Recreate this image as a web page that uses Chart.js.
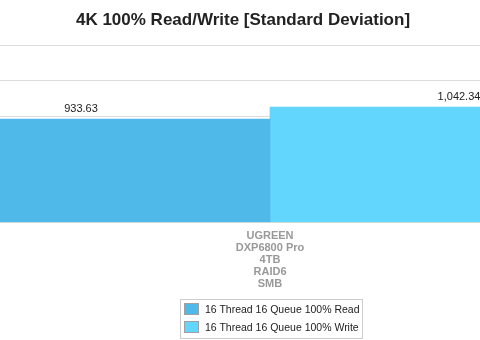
<!DOCTYPE html>
<html lang="en">
<head>
    <meta charset="UTF-8">
    <title>4K 100% Read/Write [Standard Deviation]</title>
    <script src="https://cdn.jsdelivr.net/npm/chart.js"></script>
    <style>
        body { margin: 0; overflow: hidden; background: #fff; font-family: "Liberation Sans", Arial, sans-serif; }
        #wrap { position: relative; width: 480px; height: 340px; overflow: hidden; }
        /* the original chart is wider than the picture, so the canvas sticks out on both sides */
        #chart-box { position: absolute; left: -162px; top: 0; width: 810px; height: 340px; }
        #legend { position: absolute; left: 180px; top: 299px; width: 181px; height: 38px; border: 1px solid #ccc; }
        .item { display: flex; align-items: center; height: 18px; font-size: 10.5px; color: #222; padding-left: 3px; white-space: nowrap; }
        .swatch { width: 13px; height: 10px; margin-right: 6px; border: 1px solid #a0a0a0; flex: none; }
    </style>
</head>
<body>
<div id="wrap">
    <div id="chart-box"><canvas id="sdChart"></canvas></div>
    <div id="legend"></div>
</div>

<script>
    // Datos
    const categories = [['UGREEN', 'DXP6800 Pro', '4TB', 'RAID6', 'SMB']];
    const seriesNames = ['16 Thread 16 Queue 100% Read', '16 Thread 16 Queue 100% Write'];
    const readValues = [933.63];
    const writeValues = [1042.34];
    const seriesColors = ['#4fb9ea', '#63d6fd'];

    // valores encima de cada barra
    const valueLabels = {
        id: 'valueLabels',
        afterDatasetsDraw(chart) {
            const ctx = chart.ctx;
            ctx.save();
            ctx.font = '11px "Liberation Sans", Arial, sans-serif';
            ctx.fillStyle = '#222';
            ctx.textAlign = 'center';
            ctx.textBaseline = 'alphabetic';
            chart.data.datasets.forEach((ds, i) => {
                chart.getDatasetMeta(i).data.forEach((bar, j) => {
                    const txt = ds.data[j].toLocaleString('en-US', { minimumFractionDigits: 2 });
                    ctx.fillText(txt, bar.x, bar.y - 7);
                });
            });
            ctx.restore();
        }
    };

    const ctx = document.getElementById('sdChart').getContext('2d');
    const sdChart = new Chart(ctx, {
        type: 'bar',
        data: {
            labels: categories,
            datasets: [
                { label: seriesNames[0], data: readValues, backgroundColor: seriesColors[0] },
                { label: seriesNames[1], data: writeValues, backgroundColor: seriesColors[1] }
            ]
        },
        options: {
            responsive: true,
            maintainAspectRatio: false,
            animation: false,
            layout: { padding: { left: 0, right: 0, top: 0, bottom: 51 } },
            datasets: { bar: { barPercentage: 1, categoryPercentage: 1, borderWidth: 0 } },
            plugins: {
                legend: { display: false },
                tooltip: { enabled: false },
                title: {
                    display: true,
                    text: '4K 100% Read/Write [Standard Deviation]',
                    color: '#222',
                    font: { family: '"Liberation Sans", Arial, sans-serif', size: 17, weight: 'bold' },
                    padding: { top: 10, bottom: 15 }
                }
            },
            scales: {
                x: {
                    grid: { display: false },
                    border: { display: false },
                    ticks: {
                        color: '#999',
                        padding: -1,
                        maxRotation: 0,
                        font: { family: '"Liberation Sans", Arial, sans-serif', size: 11, weight: 'bold', lineHeight: 1.1 }
                    }
                },
                y: {
                    min: 0,
                    max: 1600,
                    ticks: { display: false, stepSize: 320 },
                    grid: { color: '#dcdcdc', drawTicks: false },
                    border: { display: false },
                    // empty axis strip on the left (off screen) so the plot is off-centre from the title
                    afterFit(scale) { scale.width = 54; }
                }
            }
        },
        plugins: [valueLabels]
    });

    // leyenda en HTML (con recuadro)
    const legend = document.getElementById('legend');
    sdChart.data.datasets.forEach(ds => {
        const row = document.createElement('div');
        row.className = 'item';
        row.innerHTML = '<span class="swatch" style="background:' + ds.backgroundColor + '"></span>' + ds.label;
        legend.appendChild(row);
    });
</script>
</body>
</html>
